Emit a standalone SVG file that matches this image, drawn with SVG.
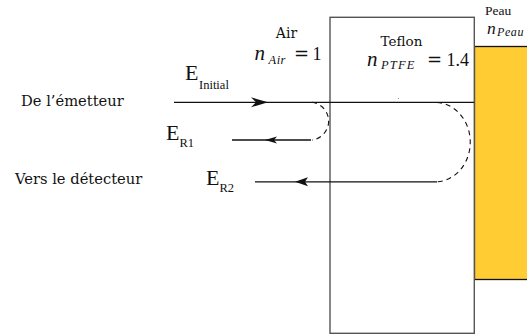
<svg xmlns="http://www.w3.org/2000/svg" width="527" height="335" viewBox="0 0 527 335">
<style>
text{fill:#111}
.lab{font-family:'DejaVu Serif',serif}
.tm{font-family:'Liberation Serif',serif}
.it{font-family:'Liberation Serif',serif;font-style:italic}
.eq{font-family:'DejaVu Serif',serif;font-size:18px}
.ln{stroke:#111;stroke-width:1.3;fill:none}
.dash{stroke:#111;stroke-width:1.1;fill:none;stroke-dasharray:5 4}
.ah{fill:#111;stroke:none}
</style>
<defs>
<path id="ahR" d="M0,0 L-17,-5 L-12,0 L-17,5 Z"/>
</defs>
<rect width="527" height="335" fill="#fff"/>
<g id="peau">
<rect x="474.5" y="46.5" width="60" height="233" fill="#FFCC33" stroke="#111" stroke-width="1.3"/>
<text class="tm" x="485" y="15" font-size="13.5">Peau</text>
<text class="it" x="487" y="33.5" font-size="17.5">n</text>
<text class="it" x="497" y="36" font-size="12" letter-spacing="0.6">Peau</text>
</g>
<g id="teflon">
<rect x="330" y="17.3" width="144.3" height="316" fill="#fff" stroke="#555" stroke-width="1.4"/>
<text class="lab" x="401.5" y="45.5" text-anchor="middle" font-size="13.5">Teflon</text>
<text class="it" x="367" y="65.5" font-size="21">n</text>
<text class="it" x="381" y="69" font-size="12.5" letter-spacing="1.2">PTFE</text>
<text class="eq" x="427" y="65.5">=</text>
<text class="tm" x="446.5" y="65.5" font-size="18">1.4</text>
<circle cx="398.5" cy="98.5" r="0.6" fill="#888"/>
</g>
<g id="air">
<text class="lab" x="286.5" y="38" text-anchor="middle" font-size="14">Air</text>
<text class="it" x="254.5" y="60" font-size="21">n</text>
<text class="it" x="268.5" y="63.5" font-size="12.5" letter-spacing="0.5">Air</text>
<text class="eq" x="294" y="60">=</text>
<text class="tm" x="312.5" y="60" font-size="18">1</text>
</g>
<g id="labels">
<text class="lab" x="21" y="106" font-size="14.7">De l’émetteur</text>
<text class="lab" x="15" y="184" font-size="14.7">Vers le détecteur</text>
<text class="tm" x="185" y="80" font-size="22">E</text>
<text class="tm" x="199" y="89" font-size="12.5">Initial</text>
<text class="tm" x="166" y="140" font-size="22">E</text>
<text class="tm" x="179.5" y="147" font-size="12.5">R1</text>
<text class="tm" x="206" y="185" font-size="22">E</text>
<text class="tm" x="219.5" y="192" font-size="12.5">R2</text>
</g>
<g id="connectors">
<line class="ln" x1="174" y1="102.3" x2="474" y2="102.3"/>
<use class="ah" href="#ahR" x="268" y="102.3"/>
<line class="ln" x1="232" y1="140" x2="311" y2="140"/>
<path class="ah" d="M265,140 L277,136.5 L274,140 L277,143.5 Z"/>
<path class="dash" d="M312,102.3 A19 19 0 0 1 312 140"/>
<line class="ln" x1="255" y1="181.8" x2="437" y2="181.8"/>
<path class="ah" d="M295,181.8 L308,177.3 L305,181.8 L308,186.3 Z"/>
<path class="dash" d="M437,102.5 A35 39.7 0 0 1 437 181.8"/>
</g>
</svg>
